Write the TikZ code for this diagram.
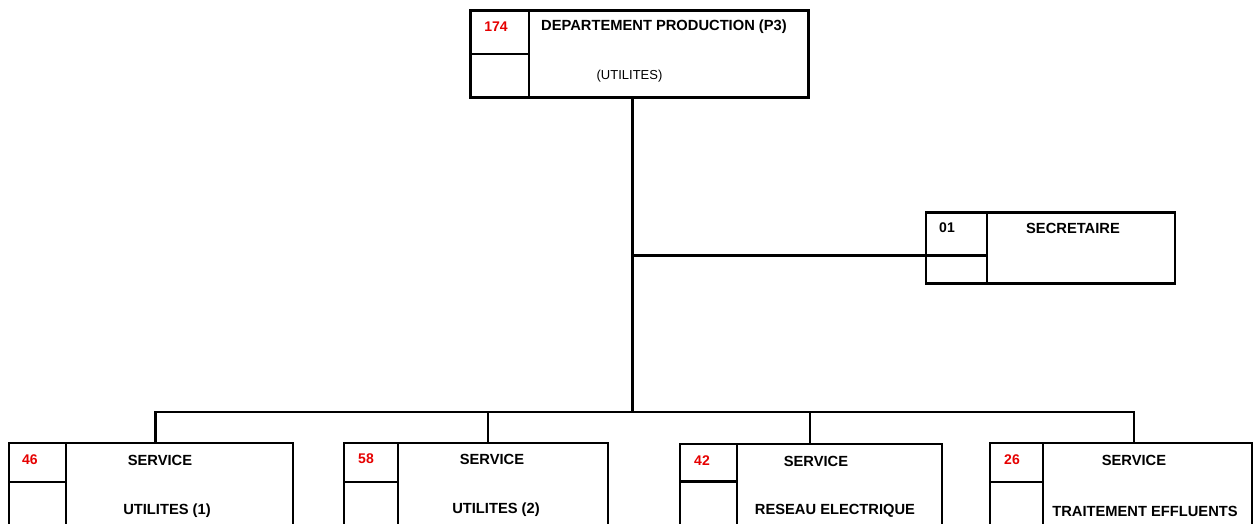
\documentclass[tikz,border=0pt]{standalone}
\usepackage{fontspec}
\setmainfont{Liberation Sans}
\definecolor{numred}{RGB}{230,0,0}
\begin{document}
\begin{tikzpicture}[x=1pt,y=-1pt,
  box/.style={draw,line width=2.8pt,rectangle,inner sep=0pt,outer sep=0pt,anchor=north west},
  sep/.style={line width=2.8pt},
  conn/.style={line width=2.8pt},
  num/.style={font=\fontsize{14}{16}\selectfont\bfseries,text=numred,inner sep=0pt},
  lbl/.style={font=\fontsize{14.7}{16}\selectfont\bfseries,inner sep=0pt},
  sub/.style={font=\fontsize{13}{15}\selectfont,inner sep=0pt}]
\clip (0,0) rectangle (1254,523);
\fill[white] (0,0) rectangle (1254,523);
% top box
\node[box,minimum width=338pt,minimum height=87pt] (top) at (470.5,10.5) {};
\draw[sep] (529,10.5) -- (529,97.5);
\draw[sep] (470.5,54) -- (529,54);
\node[num] (topn) at (496,27) {174};
\node[lbl,anchor=west] (topl) at (541,27) {DEPARTEMENT PRODUCTION (P3)};
\node[sub] (tops) at (629.5,76) {(UTILITES)};
% secretary
\node[box,minimum width=249pt,minimum height=71pt] (sec) at (926,212.5) {};
\draw[sep] (987,212.5) -- (987,283.5);
\draw[sep] (926,255.5) -- (987,255.5);
\node[num,text=black] (secn) at (947,228) {01};
\node[lbl] (secl) at (1073,228) {SECRETAIRE};
% bottom boxes
\node[box,minimum width=284pt,minimum height=88pt] (b1) at (9,443) {};
\draw[sep] (66,443) -- (66,531);
\draw[sep] (9,482) -- (66,482);
\node[num] (b1n) at (30,460) {46};
\node[lbl] (b1l) at (160,460) {SERVICE};
\node[lbl] (b1s) at (167,511) {UTILITES (1)};
\node[box,minimum width=264pt,minimum height=88pt] (b2) at (344,443) {};
\draw[sep] (398,443) -- (398,531);
\draw[sep] (344,482) -- (398,482);
\node[num] (b2n) at (366,459) {58};
\node[lbl] (b2l) at (492,459) {SERVICE};
\node[lbl] (b2s) at (496,510) {UTILITES (2)};
\node[box,minimum width=262pt,minimum height=88pt] (b3) at (680,444) {};
\draw[sep] (737,444) -- (737,532);
\draw[sep] (680,481.5) -- (737,481.5);
\node[num] (b3n) at (702,461) {42};
\node[lbl] (b3l) at (816,461) {SERVICE};
\node[lbl] (b3s) at (835,511) {RESEAU ELECTRIQUE};
\node[box,minimum width=262pt,minimum height=88pt] (b4) at (990,443) {};
\draw[sep] (1043,443) -- (1043,531);
\draw[sep] (990,482) -- (1043,482);
\node[num] (b4n) at (1012,460) {26};
\node[lbl] (b4l) at (1134,460) {SERVICE};
\node[lbl] (b4s) at (1145,511) {TRAITEMENT EFFLUENTS};
% connectors
\coordinate (j1) at (632.5,255.5);
\coordinate (bus) at (632.5,412);
\coordinate (d1) at (155.5,412);
\coordinate (d2) at (488,412);
\coordinate (d3) at (810,412);
\coordinate (d4) at (1134,412);
\draw[conn] (j1 |- top.south) -- (bus);
\draw[conn] (j1) -- (j1 -| sec.west);
\draw[conn,line cap=rect] (d1) -- (d4);
\draw[conn] (d1) -- (d1 |- b1.north);
\draw[conn] (d2) -- (d2 |- b2.north);
\draw[conn] (d3) -- (d3 |- b3.north);
\draw[conn] (d4) -- (d4 |- b4.north);
\end{tikzpicture}
\end{document}
